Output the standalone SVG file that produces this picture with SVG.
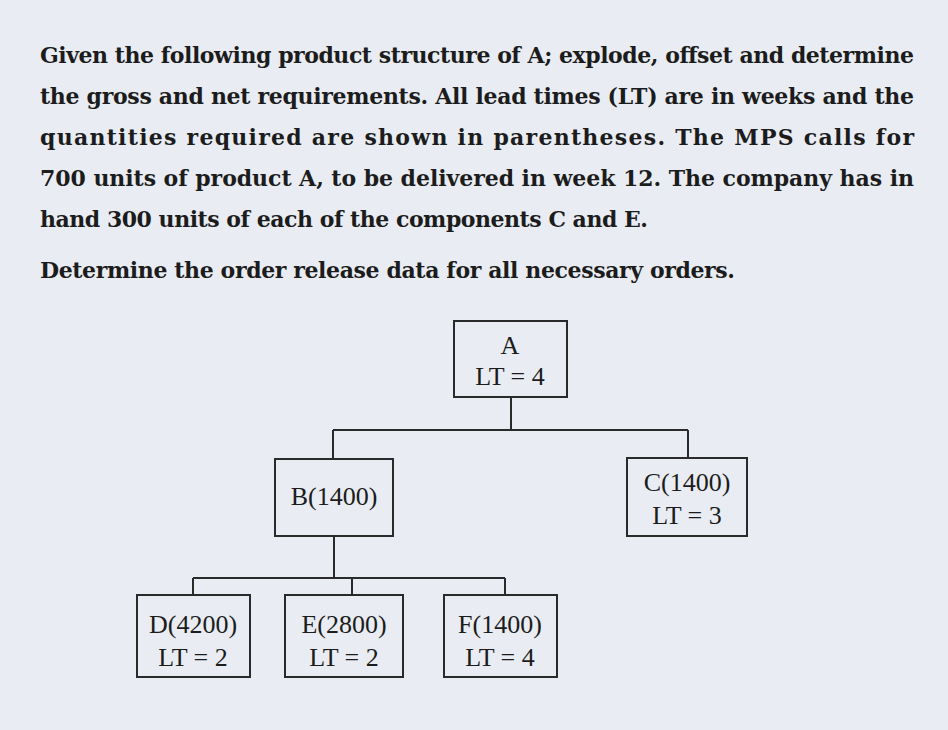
<svg xmlns="http://www.w3.org/2000/svg" width="948" height="730" viewBox="0 0 948 730">
<style>
.p{font-family:"DejaVu Serif","Liberation Serif",serif;font-weight:bold;font-size:22px;fill:#1c1c1c}
.b{fill:none;stroke:#2a2a2a;stroke-width:2}
.t{font-family:"Liberation Serif","Times New Roman",serif;font-size:26px;fill:#1c1c1c;text-anchor:middle}
.c{fill:none;stroke:#2a2a2a;stroke-width:2}
</style>
<rect width="948" height="730" fill="#e9edf3"/>
<g id="text">
<text class="p" x="40" y="63" textLength="874" lengthAdjust="spacing">Given the following product structure of A; explode, offset and determine</text>
<text class="p" x="40" y="104" textLength="874" lengthAdjust="spacing">the gross and net requirements. All lead times (LT) are in weeks and the</text>
<text class="p" x="40" y="145" textLength="874" lengthAdjust="spacing">quantities required are shown in parentheses. The MPS calls for</text>
<text class="p" x="40" y="186" textLength="874" lengthAdjust="spacing">700 units of product A, to be delivered in week 12. The company has in</text>
<text class="p" x="40" y="227" textLength="608" lengthAdjust="spacing">hand 300 units of each of the components C and E.</text>
<text class="p" x="40" y="278" textLength="695" lengthAdjust="spacing">Determine the order release data for all necessary orders.</text>
</g>
<g id="connectors">
<path class="c" d="M511 397V430M333 430H688M333 430V459M688 430V458"/>
<path class="c" d="M334 536V578M193 578H505M193 578V595M352 578V595M505 578V595"/>
</g>
<g id="A"><rect class="b" x="454" y="321" width="113" height="76"/><text class="t" x="510" y="354">A</text><text class="t" x="510" y="385">LT = 4</text></g>
<g id="B"><rect class="b" x="275" y="459" width="118" height="77"/><text class="t" x="334" y="505">B(1400)</text></g>
<g id="C"><rect class="b" x="627" y="458" width="120" height="78"/><text class="t" x="687" y="491">C(1400)</text><text class="t" x="687" y="524">LT = 3</text></g>
<g id="D"><rect class="b" x="137" y="595" width="113" height="82"/><text class="t" x="193" y="633">D(4200)</text><text class="t" x="193" y="666">LT = 2</text></g>
<g id="E"><rect class="b" x="285" y="595" width="118" height="82"/><text class="t" x="344" y="633">E(2800)</text><text class="t" x="344" y="666">LT = 2</text></g>
<g id="F"><rect class="b" x="444" y="595" width="113" height="82"/><text class="t" x="500" y="633">F(1400)</text><text class="t" x="500" y="666">LT = 4</text></g>
</svg>
